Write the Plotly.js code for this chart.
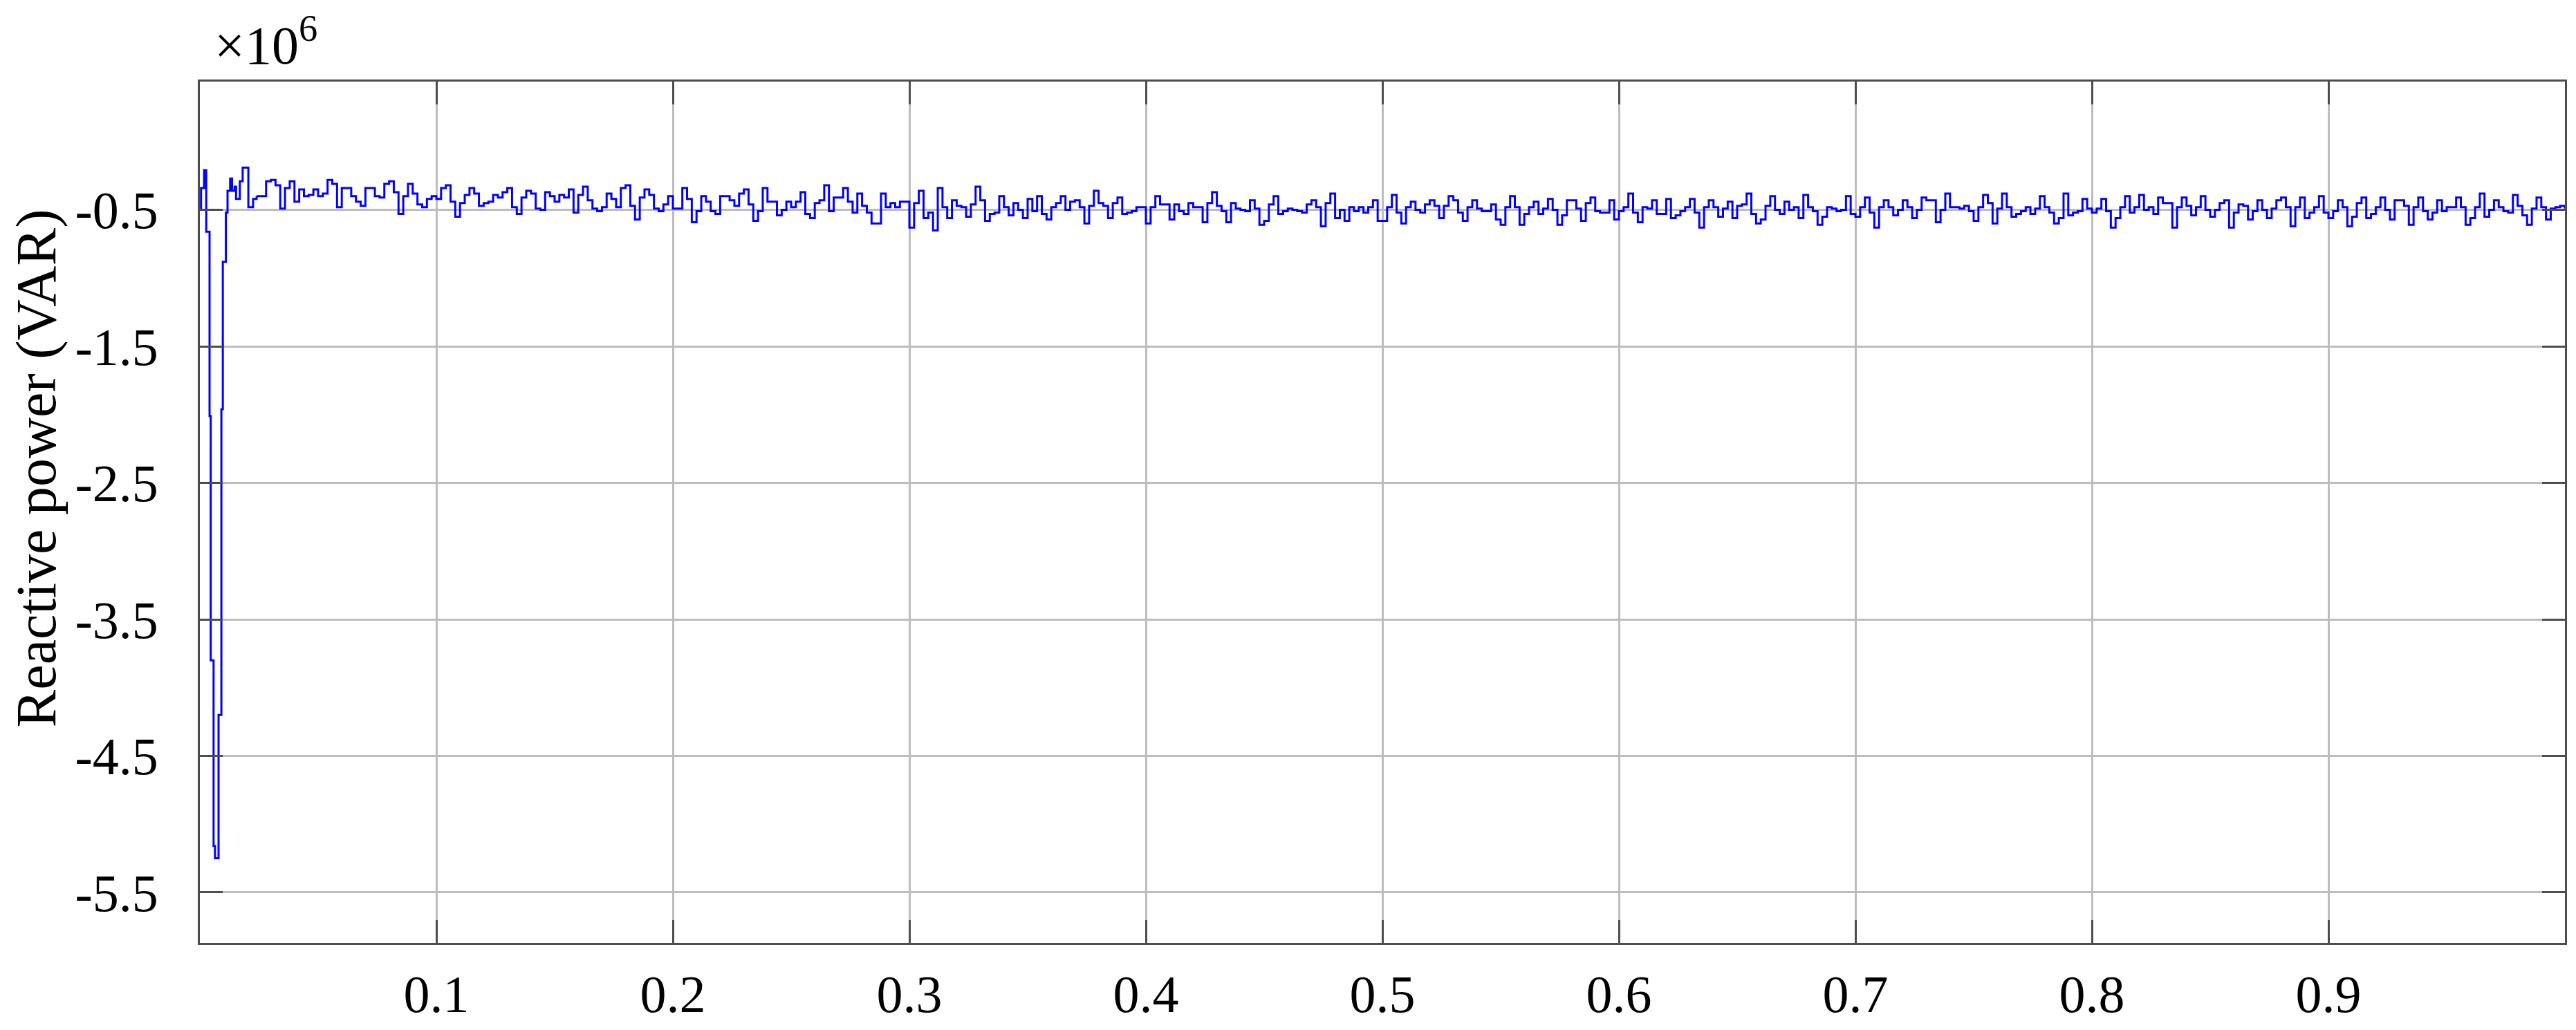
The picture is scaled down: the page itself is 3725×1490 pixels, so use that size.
<!DOCTYPE html>
<html>
<head>
<meta charset="utf-8">
<script src="https://cdn.plot.ly/plotly-3.0.1.min.js"></script>
<style>
  html, body { margin: 0; padding: 0; background: #fff; }
  #chart { width: 3725px; height: 1490px; }
</style>
</head>
<body>
<div id="chart"></div>
<script>
// start-up transient (time in s, Q in 1e6 VAR)
const tStart = [0, 0.0005, 0.0018, 0.0027, 0.0041, 0.0046, 0.0058, 0.0064, 0.0079, 0.0091,
  0.0097, 0.0110, 0.0117, 0.0128, 0.0136, 0.0147, 0.0153, 0.0169, 0.0181, 0.0205, 0.0225, 0.024];
const qStart = [-0.50, -0.34, -0.21, -0.66, -2.01, -3.80, -5.16, -5.25, -4.20, -1.96,
  -0.88, -0.52, -0.36, -0.27, -0.36, -0.33, -0.42, -0.29, -0.19, -0.48, -0.42, -0.40];

// steady part, one value every 2 ms from t = 0.024 s
const dtSteady = 0.002;
const tSteady0 = 0.024;
const qSeg1 = [-0.40, -0.40, -0.29, -0.28, -0.32, -0.49, -0.34, -0.29, -0.44, -0.35,
  -0.40, -0.39, -0.35, -0.40, -0.38, -0.28, -0.31, -0.48, -0.34, -0.34,
  -0.40, -0.44, -0.47, -0.34, -0.34, -0.40, -0.41, -0.31, -0.29, -0.37,
  -0.53, -0.40, -0.31, -0.38, -0.46, -0.48, -0.42, -0.40, -0.42, -0.34,
  -0.32, -0.44, -0.55, -0.45, -0.39, -0.34, -0.38, -0.47, -0.45, -0.44,
  -0.39, -0.41, -0.37, -0.34, -0.48, -0.53, -0.41, -0.36, -0.38, -0.49,
  -0.50, -0.37, -0.40, -0.44, -0.39, -0.41, -0.35, -0.52, -0.39, -0.33,
  -0.43, -0.49, -0.51, -0.48, -0.38];
const qSeg2 = [-0.42, -0.48, -0.34, -0.32, -0.47, -0.57, -0.41, -0.35, -0.39, -0.49,
  -0.51, -0.46, -0.40, -0.49, -0.49, -0.34, -0.42, -0.59, -0.51, -0.40,
  -0.44, -0.51, -0.53, -0.40, -0.40, -0.43, -0.47, -0.38, -0.35, -0.46,
  -0.58, -0.51, -0.34, -0.44, -0.44, -0.54, -0.50, -0.44, -0.48, -0.44,
  -0.37, -0.53, -0.56, -0.45, -0.43, -0.32, -0.51, -0.41, -0.41, -0.34,
  -0.44, -0.52, -0.38, -0.47, -0.52, -0.60, -0.60, -0.38, -0.48, -0.45,
  -0.48, -0.44, -0.44, -0.63, -0.45, -0.36, -0.56, -0.52, -0.65, -0.34,
  -0.48, -0.56, -0.43, -0.47, -0.48, -0.55, -0.46, -0.33, -0.43, -0.58,
  -0.53, -0.52, -0.40, -0.48, -0.54, -0.45];
const qSeg3 = [-0.50, -0.56, -0.42, -0.51, -0.40, -0.53, -0.57, -0.48, -0.45, -0.40,
  -0.50, -0.44, -0.43, -0.48, -0.60, -0.47, -0.36, -0.45, -0.47, -0.56,
  -0.45, -0.41, -0.53, -0.52, -0.51, -0.48, -0.48, -0.60, -0.48, -0.40,
  -0.46, -0.46, -0.57, -0.46, -0.51, -0.53, -0.45, -0.48, -0.48, -0.59,
  -0.45, -0.37, -0.47, -0.51, -0.59, -0.45, -0.49, -0.50, -0.51, -0.43,
  -0.49, -0.61, -0.58, -0.46, -0.40, -0.53, -0.51, -0.49, -0.50, -0.51,
  -0.52, -0.46, -0.43, -0.48, -0.62, -0.45, -0.38, -0.56, -0.50, -0.58,
  -0.48, -0.51, -0.48, -0.52, -0.48, -0.43, -0.58, -0.58, -0.48, -0.39,
  -0.52, -0.60, -0.48, -0.44, -0.50, -0.52];
const qSeg4 = [-0.46, -0.43, -0.47, -0.56, -0.47, -0.40, -0.43, -0.52, -0.58, -0.48,
  -0.43, -0.49, -0.51, -0.51, -0.46, -0.57, -0.61, -0.48, -0.40, -0.48,
  -0.61, -0.53, -0.48, -0.44, -0.53, -0.49, -0.42, -0.50, -0.61, -0.54,
  -0.43, -0.43, -0.49, -0.58, -0.45, -0.41, -0.51, -0.52, -0.52, -0.43,
  -0.57, -0.51, -0.48, -0.38, -0.52, -0.59, -0.48, -0.49, -0.43, -0.53,
  -0.53, -0.42, -0.56, -0.54, -0.51, -0.48, -0.42, -0.52, -0.63, -0.48,
  -0.43, -0.48, -0.55, -0.49, -0.44, -0.56, -0.47, -0.46, -0.38, -0.53,
  -0.60, -0.57, -0.47, -0.40, -0.50, -0.53, -0.44, -0.50, -0.48, -0.56,
  -0.39, -0.48, -0.51, -0.61, -0.55, -0.48];
const qSeg5 = [-0.49, -0.51, -0.50, -0.40, -0.53, -0.55, -0.48, -0.41, -0.52, -0.63,
  -0.48, -0.43, -0.48, -0.54, -0.50, -0.43, -0.48, -0.56, -0.50, -0.41,
  -0.43, -0.43, -0.59, -0.50, -0.38, -0.48, -0.48, -0.49, -0.47, -0.51,
  -0.58, -0.48, -0.39, -0.45, -0.60, -0.49, -0.38, -0.48, -0.55, -0.53,
  -0.51, -0.48, -0.53, -0.49, -0.40, -0.48, -0.52, -0.60, -0.56, -0.38,
  -0.54, -0.52, -0.51, -0.42, -0.49, -0.52, -0.49, -0.42, -0.51, -0.63,
  -0.56, -0.48, -0.40, -0.52, -0.48, -0.39, -0.50, -0.48, -0.53, -0.41,
  -0.45, -0.45, -0.63, -0.48, -0.41, -0.47, -0.54, -0.48, -0.40, -0.50,
  -0.55, -0.50, -0.45, -0.43, -0.63, -0.52, -0.46];
const qSeg6 = [-0.47, -0.57, -0.51, -0.43, -0.50, -0.56, -0.49, -0.43, -0.41, -0.48,
  -0.62, -0.48, -0.41, -0.56, -0.52, -0.48, -0.40, -0.52, -0.56, -0.51,
  -0.43, -0.48, -0.62, -0.55, -0.45, -0.41, -0.56, -0.53, -0.48, -0.41,
  -0.50, -0.57, -0.43, -0.43, -0.47, -0.61, -0.48, -0.41, -0.51, -0.57,
  -0.52, -0.43, -0.51, -0.48, -0.48, -0.41, -0.48, -0.61, -0.56, -0.48,
  -0.38, -0.55, -0.50, -0.43, -0.48, -0.51, -0.52, -0.39, -0.47, -0.54,
  -0.61, -0.49, -0.41, -0.48, -0.57, -0.49, -0.48, -0.47, -0.49];

const xTicks = [0.1, 0.2, 0.3, 0.4, 0.5, 0.6, 0.7, 0.8, 0.9];
const yTicks = [-5.5, -4.5, -3.5, -2.5, -1.5, -0.5];

const qSteady = [].concat(qSeg1, qSeg2, qSeg3, qSeg4, qSeg5, qSeg6);

const serif = 'Liberation Serif, Times New Roman, serif';
const lineStyle = {color: '#0000ff', width: 3, shape: 'hv'};

const traces = [
  {x: tStart, y: qStart, type: 'scatter', mode: 'lines', line: lineStyle, hoverinfo: 'skip'},
  {x0: tSteady0, dx: dtSteady, y: qSteady, type: 'scatter', mode: 'lines', line: lineStyle, hoverinfo: 'skip'}
];

const axisCommon = {
  showline: true,
  mirror: 'ticks',
  linecolor: '#4d4d4d',
  linewidth: 3,
  ticks: 'inside',
  ticklen: 33,
  tickwidth: 3,
  tickcolor: '#4d4d4d',
  showgrid: true,
  gridcolor: '#bdbdbd',
  gridwidth: 3,
  zeroline: false,
  tickfont: {family: serif, size: 76, color: '#000'}
};

const layout = {
  width: 3725,
  height: 1490,
  margin: {l: 289, r: 16, t: 118, b: 126},
  paper_bgcolor: '#fff',
  plot_bgcolor: '#fff',
  showlegend: false,
  xaxis: Object.assign({}, axisCommon, {
    range: [0, 1],
    tickvals: xTicks,
    ticktext: xTicks.map(v => v.toFixed(1)),
    ticklabelstandoff: 6
  }),
  yaxis: Object.assign({}, axisCommon, {
    range: [-5.87, 0.44],
    tickvals: yTicks,
    ticktext: yTicks.map(v => v.toFixed(1)),
    ticklabelstandoff: 42
  }),
  annotations: [
    {
      text: 'Reactive power (VAR)',
      xref: 'paper', yref: 'paper',
      x: -0.0693, y: 0.551,
      xanchor: 'center', yanchor: 'middle',
      textangle: -90,
      showarrow: false,
      font: {family: serif, size: 82, color: '#000'}
    },
    {
      text: '×10<sup>6</sup>',
      xref: 'paper', yref: 'paper',
      x: 0.0055, y: 1.047,
      xanchor: 'left', yanchor: 'middle',
      showarrow: false,
      font: {family: serif, size: 78, color: '#000'}
    }
  ]
};

Plotly.newPlot('chart', traces, layout, {displayModeBar: false, staticPlot: true});
</script>
</body>
</html>
